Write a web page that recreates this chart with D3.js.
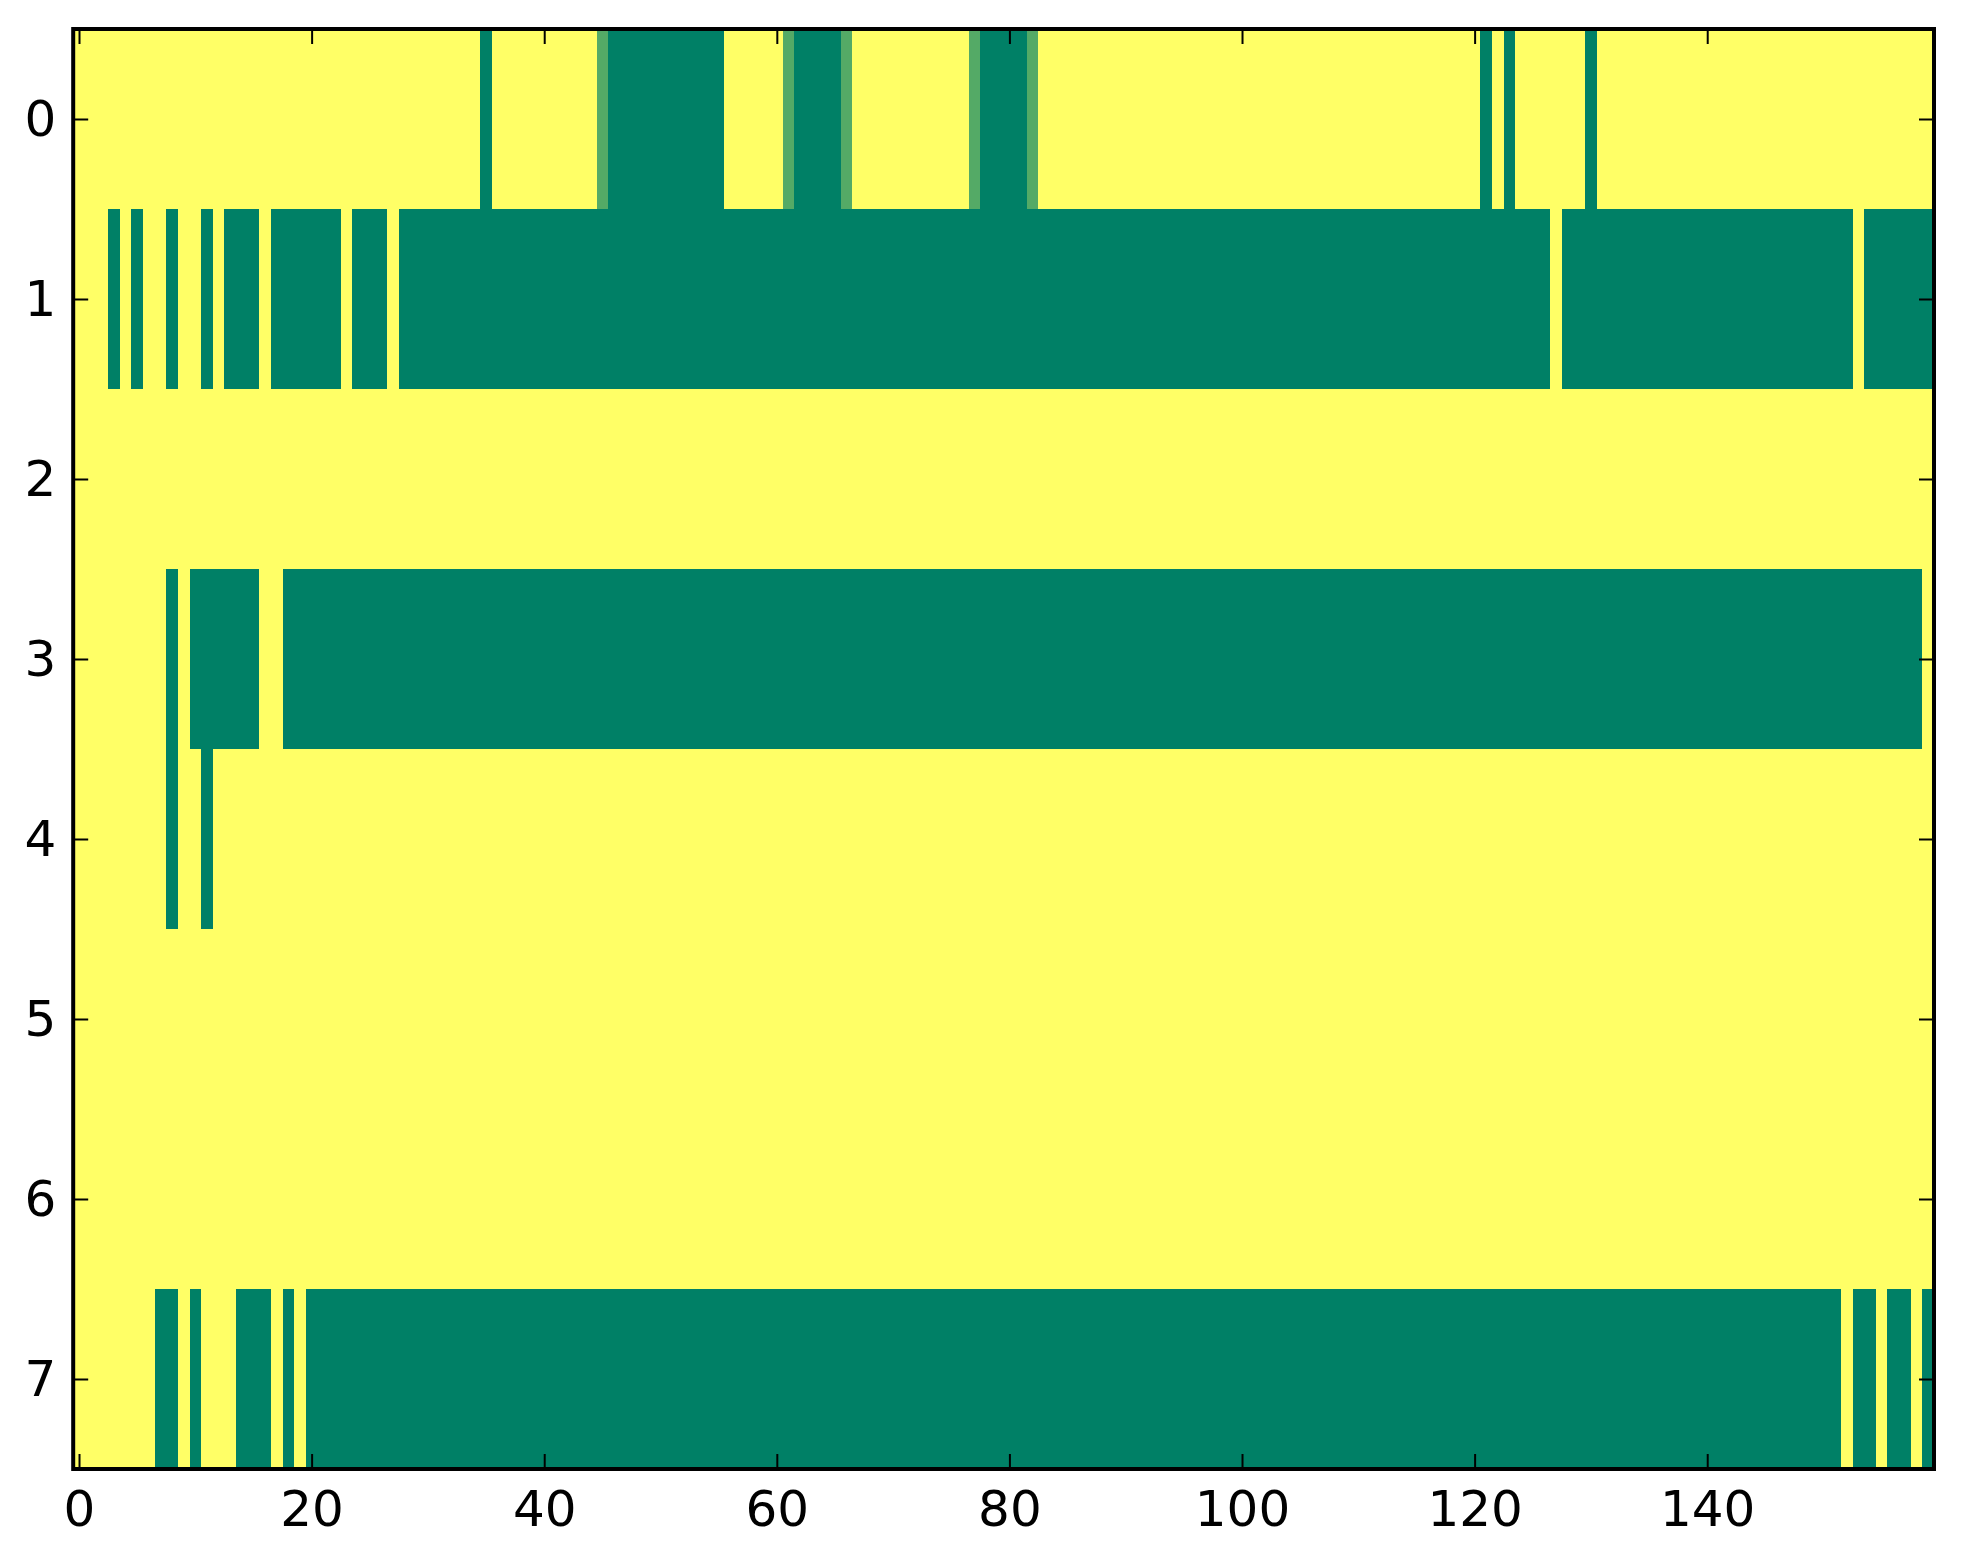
<!DOCTYPE html>
<html>
<head>
<meta charset="utf-8">
<script src="https://cdn.jsdelivr.net/npm/d3@7"></script>
<style>
  html, body { margin: 0; padding: 0; background: #ffffff; }
  svg { display: block; }
  text { font-family: "DejaVu Sans", sans-serif; }
</style>
</head>
<body>
<svg id="chart" width="1963" height="1564"></svg>
<script>
// ---- Data (run-length encoded rows: [value, number of consecutive columns]) ----
// value 1 = yellow (high), 0 = dark green (low), 0.33 = light green (intermediate)
const nCols = 160;
const rowLabels = [0, 1, 2, 3, 4, 5, 6, 7];
const xTickValues = [0, 20, 40, 60, 80, 100, 120, 140];
const yTickValues = [0, 1, 2, 3, 4, 5, 6, 7];

const row0 = [[1,35],[0,1],[1,9],[0.33,1],[0,10],[1,5],[0.33,1],[0,4],[0.33,1],[1,10],[0.33,1],[0,4],[0.33,1],[1,38],[0,1],[1,1],[0,1],[1,6],[0,1],[1,29]];
const row1 = [[1,3],[0,1],[1,1],[0,1],[1,2],[0,1],[1,2],[0,1],[1,1],[0,3],[1,1],[0,6],[1,1],[0,3],[1,1],[0,99],[1,1],[0,25],[1,1],[0,6]];
const row2 = [[1,160]];
const row3 = [[1,8],[0,1],[1,1],[0,6],[1,2],[0,141],[1,1]];
const row4 = [[1,8],[0,1],[1,2],[0,1],[1,148]];
const row5 = [[1,160]];
const row6 = [[1,160]];
const row7 = [[1,7],[0,2],[1,1],[0,1],[1,3],[0,3],[1,1],[0,1],[1,1],[0,132],[1,1],[0,2],[1,1],[0,2],[1,1],[0,1]];
const rows = [row0, row1, row2, row3, row4, row5, row6, row7];

(function () {
  // ---- Build cell table from the runs ----
  const cells = [];
  rows.forEach((runs, r) => {
    let c = 0;
    runs.forEach(([v, n]) => {
      for (let k = 0; k < n; k++) { cells.push({row: r, col: c, value: v}); c++; }
    });
  });

  // ---- Layout ----
  const pL = 73.2, pR = 1934, pT = 29, pB = 1469;
  const svg = d3.select("#chart");

  const colIdx = d3.range(nCols);
  const xBand = d3.scaleBand().domain(colIdx).range([pL, pR]).paddingInner(0).paddingOuter(0);
  const yBand = d3.scaleBand().domain(rowLabels).range([pT, pB]).paddingInner(0).paddingOuter(0);
  const xLin = d3.scaleLinear().domain([-0.5, nCols - 0.5]).range([pL, pR]);
  const yLin = d3.scaleLinear().domain([-0.5, rowLabels.length - 0.5]).range([pT, pB]);

  // matplotlib "summer" colormap
  const color = d3.scaleLinear().domain([0, 1]).range(["#008066", "#ffff66"]).interpolate(d3.interpolateRgb);

  svg.append("g")
    .selectAll("rect")
    .data(cells)
    .join("rect")
    .attr("x", d => xBand(d.col))
    .attr("y", d => yBand(d.row))
    .attr("width", xBand.bandwidth() + 0.6)
    .attr("height", yBand.bandwidth() + 0.6)
    .attr("fill", d => color(d.value))
    .attr("shape-rendering", "crispEdges");

  // ---- Axes (inward ticks on all four sides) ----
  const tickLen = 15;
  function styleAxis(g) {
    g.select(".domain").remove();
    g.selectAll(".tick line").attr("stroke", "#000").attr("stroke-width", 2);
    g.selectAll(".tick text").attr("fill", "#000").style("font-size", "50px")
      .style("font-family", "'DejaVu Sans', sans-serif");
  }

  svg.append("g")
    .attr("transform", `translate(0,${pB})`)
    .call(d3.axisBottom(xLin).tickValues(xTickValues).tickSize(-tickLen).tickPadding(21).tickFormat(d3.format("d")))
    .call(styleAxis);

  svg.append("g")
    .attr("transform", `translate(0,${pT})`)
    .call(d3.axisTop(xLin).tickValues(xTickValues).tickSize(-tickLen).tickFormat(""))
    .call(styleAxis);

  svg.append("g")
    .attr("transform", `translate(${pL},0)`)
    .call(d3.axisLeft(yLin).tickValues(yTickValues).tickSize(-tickLen).tickPadding(17).tickFormat(d3.format("d")))
    .call(styleAxis);

  svg.append("g")
    .attr("transform", `translate(${pR},0)`)
    .call(d3.axisRight(yLin).tickValues(yTickValues).tickSize(-tickLen).tickFormat(""))
    .call(styleAxis);

  // ---- Frame ----
  svg.append("rect")
    .attr("x", pL).attr("y", pT)
    .attr("width", pR - pL).attr("height", pB - pT)
    .attr("fill", "none").attr("stroke", "#000").attr("stroke-width", 4);
})();
</script>
</body>
</html>
